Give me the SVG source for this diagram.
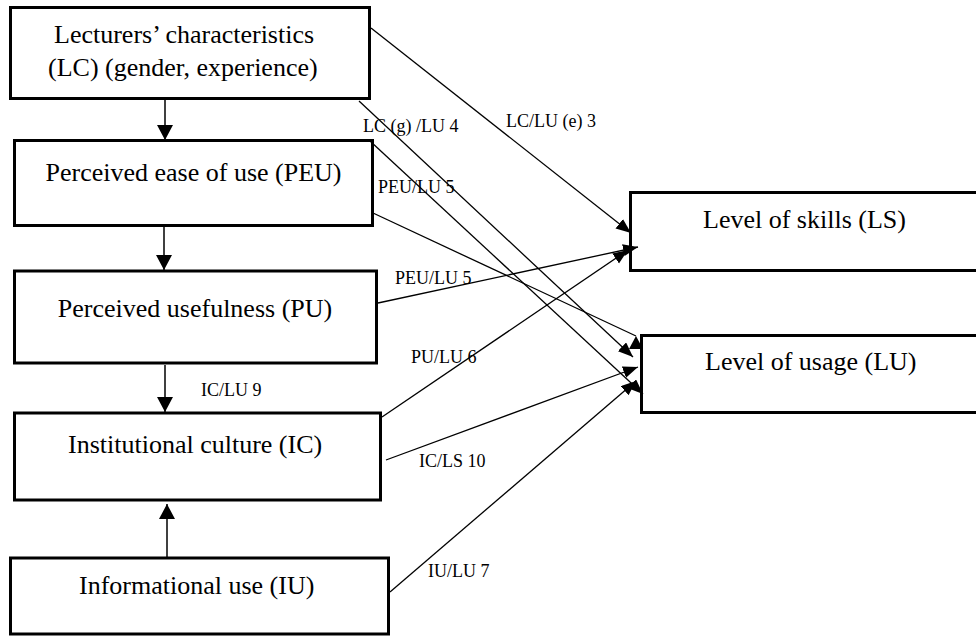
<svg xmlns="http://www.w3.org/2000/svg" width="976" height="636" viewBox="0 0 976 636">
  <style>
    .box { fill: #fff; stroke: #000; stroke-width: 3; }
    .node { font-family: "Liberation Serif", "Times New Roman", serif; font-size: 26px; fill: #000; }
    .lbl { font-family: "Liberation Serif", "Times New Roman", serif; font-size: 18px; fill: #000; }
    .vline { stroke: #000; stroke-width: 1.5; fill: none; }
    .dline { stroke: #000; stroke-width: 1.3; fill: none; marker-end: url(#ah); }
  </style>
  <defs>
    <marker id="ah" markerUnits="userSpaceOnUse" markerWidth="16" markerHeight="13" refX="15" refY="6" orient="auto">
      <path d="M0,0 L15,6 L0,12 z" fill="#000"/>
    </marker>
    <marker id="ahUp" markerUnits="userSpaceOnUse" markerWidth="16" markerHeight="14" refX="13" refY="7" orient="-90">
      <path d="M0,0 L13,7 L0,14 z" fill="#000"/>
    </marker>
    <marker id="vh" markerUnits="userSpaceOnUse" markerWidth="17" markerHeight="17" refX="15" refY="8" orient="auto">
      <path d="M0,0 L15,8 L0,16 z" fill="#000"/>
    </marker>
  </defs>

  <g id="n-lc">
    <rect class="box" x="10.5" y="7.5" width="359" height="91"/>
    <text class="node" x="54" y="43">Lecturers’ characteristics</text>
    <text class="node" x="48" y="76">(LC) (gender, experience)</text>
  </g>
  <g id="n-peu">
    <rect class="box" x="14.5" y="140.5" width="358" height="85"/>
    <text class="node" x="193.5" y="181" text-anchor="middle">Perceived ease of use (PEU)</text>
  </g>
  <g id="n-pu">
    <rect class="box" x="14.5" y="271" width="362" height="92"/>
    <text class="node" x="195" y="317" text-anchor="middle">Perceived usefulness (PU)</text>
  </g>
  <g id="n-ic">
    <rect class="box" x="14.5" y="413" width="366" height="87"/>
    <text class="node" x="68" y="453">Institutional culture (IC)</text>
  </g>
  <g id="n-iu">
    <rect class="box" x="10.5" y="558" width="378" height="76"/>
    <text class="node" x="79" y="594">Informational use (IU)</text>
  </g>
  <g id="n-ls">
    <rect class="box" x="630.5" y="192.5" width="360" height="78"/>
    <text class="node" x="703" y="228">Level of skills (LS)</text>
  </g>
  <g id="n-lu">
    <rect class="box" x="641.5" y="335.5" width="350" height="77"/>
    <text class="node" x="705" y="370">Level of usage (LU)</text>
  </g>

  <g id="connectors">
    <!-- vertical links in the left column -->
    <line class="vline" x1="165" y1="100" x2="165" y2="140" marker-end="url(#vh)"/>
    <line class="vline" x1="164" y1="227" x2="164" y2="270" marker-end="url(#vh)"/>
    <line class="vline" x1="165" y1="365" x2="165" y2="412" marker-end="url(#vh)"/>
    <line class="vline" x1="167" y1="557" x2="167" y2="504" marker-end="url(#vh)"/>

    <!-- diagonal links to LS / LU -->
    <line class="dline" x1="371" y1="28" x2="631" y2="233"/>
    <line class="dline" x1="359" y1="101" x2="633" y2="357"/>
    <line class="dline" x1="370" y1="141" x2="643" y2="394"/>
    <line class="dline" x1="373" y1="213" x2="636" y2="336" style="marker-end:url(#ahUp)"/>
    <line class="dline" x1="378" y1="303" x2="638" y2="247"/>
    <line class="dline" x1="382" y1="417" x2="628" y2="250"/>
    <line class="dline" x1="386" y1="460" x2="638" y2="367"/>
    <line class="dline" x1="390" y1="592" x2="636" y2="381"/>
  </g>

  <g id="labels">
    <text class="lbl" x="506" y="127">LC/LU (e) 3</text>
    <text class="lbl" x="363" y="132">LC (g) /LU 4</text>
    <text class="lbl" x="378" y="193">PEU/LU 5</text>
    <text class="lbl" x="395" y="284">PEU/LU 5</text>
    <text class="lbl" x="411" y="363">PU/LU 6</text>
    <text class="lbl" x="201" y="396">IC/LU 9</text>
    <text class="lbl" x="419" y="467">IC/LS 10</text>
    <text class="lbl" x="428" y="577">IU/LU 7</text>
  </g>
</svg>
